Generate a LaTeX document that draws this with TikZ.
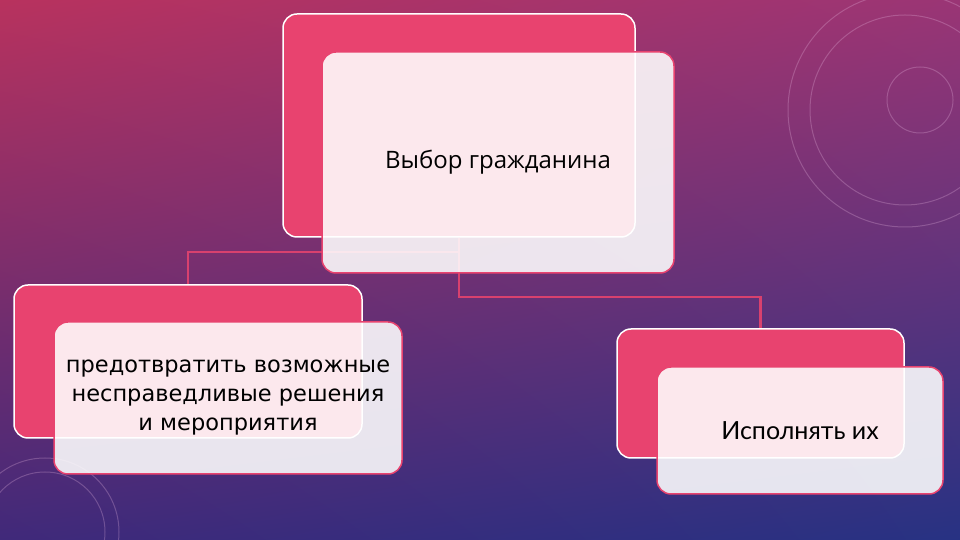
\documentclass[tikz,border=0pt]{standalone}
\usepackage{fontspec}
\setmainfont{Open Sans}
\newfontfamily\leftfont{DejaVu Sans}
\newfontfamily\rightfont{Lato}
\usetikzlibrary{positioning,shadings}
\definecolor{bgTL}{HTML}{B8325E}
\definecolor{bgTR}{HTML}{9A3575}
\definecolor{bgBL}{HTML}{40297A}
\definecolor{bgBR}{HTML}{273283}
\definecolor{pinkbox}{HTML}{E8436F}
\definecolor{conn}{HTML}{D8416E}
\definecolor{deco}{HTML}{E8B8E0}
\tikzset{
  backbox/.style={draw=white, line width=1.5pt, fill=pinkbox, rounded corners=14pt, inner sep=0pt},
  frontbox/.style={draw=pinkbox, line width=1.5pt, fill=white, fill opacity=0.88, text opacity=1, rounded corners=14pt, inner sep=0pt, align=center, text=black},
  link/.style={conn, line width=2.2pt},
  decoline/.style={deco, line width=1pt, opacity=0.28}
}
\begin{document}
\begin{tikzpicture}[x=1pt,y=1pt]
\useasboundingbox (0,0) rectangle (960,540);
\shade[upper left=bgTL, upper right=bgTR, lower left=bgBL, lower right=bgBR] (0,0) rectangle (960,540);
% decorations
\draw[decoline] (905,430) circle (117);
\draw[decoline] (905,430) circle (95);
\draw[decoline] (920,440) circle (33);
\draw[decoline] (45,8) circle (74);
\draw[decoline] (45,8) circle (60);
% back boxes
\node[backbox, minimum width=352pt, minimum height=223pt] (pA) at (459,414.5) {};
\node[backbox, minimum width=348pt, minimum height=153pt] (pB) at (188,178.5) {};
\node[backbox, minimum width=287pt, minimum height=129pt] (pC) at (760.5,146.5) {};
% connectors
\draw[link] (pA.south) -- ++(0,-14) coordinate (kA) -| (pB.north);
\draw[link] (pA.south) -- ++(0,-59) coordinate (kB) -| (pC.north);
% front boxes
\node[frontbox, minimum width=352pt, minimum height=221pt, font=\fontsize{24}{30}\selectfont] (tA) at (498,377.5) {Выбор гражданина};
\node[frontbox, minimum width=348pt, minimum height=152pt, font=\leftfont\fontsize{22.5}{29}\selectfont] (tB) at (228,142) {предотвратить возможные\\несправедливые решения\\и мероприятия};
\node[frontbox, minimum width=286pt, minimum height=127pt, font=\rightfont\fontsize{25}{30}\selectfont] (tC) at (800,109.5) {Исполнять их};
\end{tikzpicture}
\end{document}
